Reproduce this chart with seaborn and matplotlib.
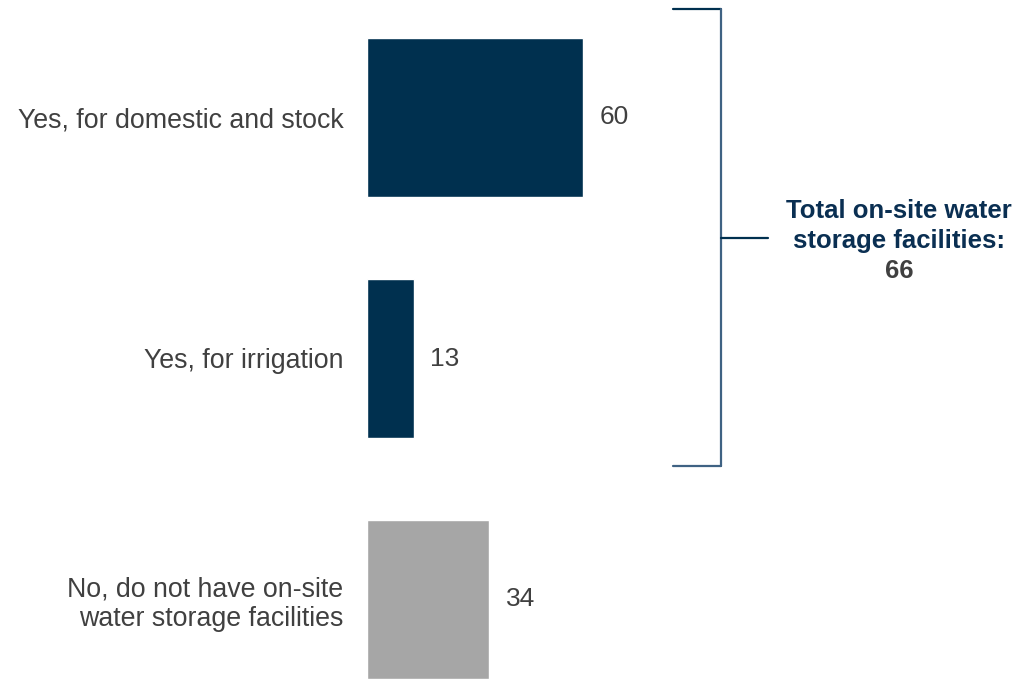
import matplotlib
matplotlib.use("Agg")
import matplotlib.pyplot as plt
from matplotlib.lines import Line2D
import seaborn as sns
import pandas as pd

categories = ["Yes, for domestic and stock",
              "Yes, for irrigation",
              "No, do not have on-site\nwater storage facilities"]
values = [60, 13, 34]
groups = ["yes", "yes", "no"]
total_lines = ["Total on-site water", "storage facilities:"]
total_value = 66

NAVY = "#00304f"
GREY = "#a6a6a6"
TEXT = "#404040"

sns.set_theme(style="white")
plt.rcParams["font.family"] = ["Liberation Sans", "DejaVu Sans"]

df = pd.DataFrame({"category": categories, "value": values, "group": groups})

fig = plt.figure(figsize=(10.24, 6.79), dpi=100)
W, H = 1024, 679
x0 = 367
px_per_unit = 3.6
xmax = 100
ax = fig.add_axes([x0 / W, 0, xmax * px_per_unit / W, 1])

sns.barplot(data=df, y="category", x="value", hue="group",
            palette={"yes": NAVY, "no": GREY}, orient="h", saturation=1,
            width=0.66, dodge=False, legend=False, ax=ax)

# vertical extent: centres at 117.5 / 359 / 599.5 px from top, spacing 241 px
step = 241.0
ax.set_ylim(2 + (H - 599.5) / step, -117.5 / step)
ax.set_xlim(0, xmax)

for c in ax.containers:
    labels = ax.bar_label(c, fmt="%d", padding=12, fontsize=19, color=TEXT)
    for t in labels:
        t.set_va("center")

ax.set_xlabel("")
ax.set_ylabel("")
ax.set_xticks([])
ax.tick_params(axis="y", length=0, pad=17, labelsize=19.3, labelcolor=TEXT)
for lbl in ax.get_yticklabels():
    lbl.set_horizontalalignment("right")
    lbl.set_multialignment("right")
    lbl.set_linespacing(1.15)
for s in ax.spines.values():
    s.set_visible(False)

# bracket spanning the two "yes" bars
def fx(px):
    return px / W

def fy(py):
    return 1 - py / H

bracket_col = "#3f6283"
lw = 1.6
fig.add_artist(Line2D([fx(673), fx(721)], [fy(9), fy(9)], color=NAVY, lw=lw, transform=fig.transFigure))
fig.add_artist(Line2D([fx(721), fx(721)], [fy(9), fy(466)], color=bracket_col, lw=lw, transform=fig.transFigure))
fig.add_artist(Line2D([fx(673), fx(721)], [fy(466), fy(466)], color=bracket_col, lw=lw, transform=fig.transFigure))
fig.add_artist(Line2D([fx(721), fx(768)], [fy(238), fy(238)], color=NAVY, lw=lw, transform=fig.transFigure))

for i, line in enumerate(total_lines):
    fig.text(fx(899), fy(211 + 30 * i), line, ha="center", va="center",
             fontsize=18.5, fontweight="bold", color="#0a2f52")
fig.text(fx(899), fy(271), str(total_value), ha="center", va="center",
         fontsize=18.5, fontweight="bold", color=TEXT)

fig.savefig("out.png", dpi=100, facecolor="white")
